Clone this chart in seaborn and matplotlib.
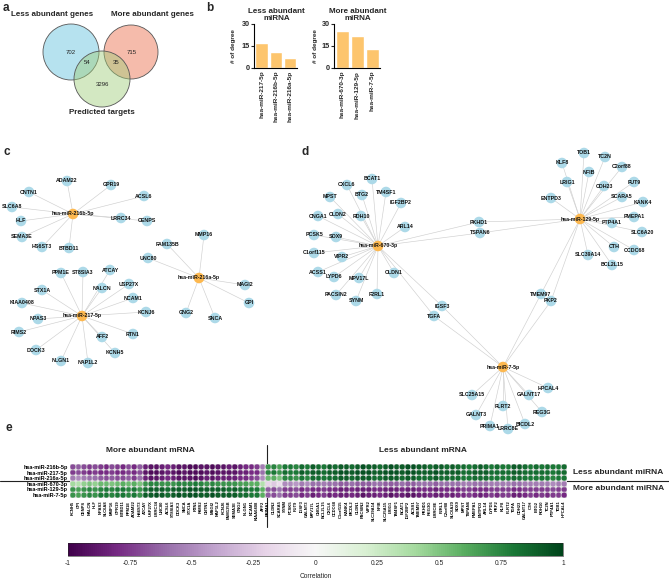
import numpy as np
import pandas as pd
import matplotlib
matplotlib.use("Agg")
import matplotlib.pyplot as plt
import matplotlib.patches as mpatches
import seaborn as sns

sns.set_theme(style="white")
plt.rcParams['font.family'] = ['Liberation Sans', 'DejaVu Sans']

W, H = 669, 584

# ---------------- data ----------------
venn_titles = ["Less abundant genes", "More abundant genes", "Predicted targets"]
venn_counts = [702, 715, 54, 35, 3296]   # less only, more only, less&pred, more&pred, pred only

less_mirna = ["hsa-miR-217-5p", "hsa-miR-216b-5p", "hsa-miR-216a-5p"]
less_degree = [17, 11, 7]
more_mirna = ["hsa-miR-670-3p", "hsa-miR-129-5p", "hsa-miR-7-5p"]
more_degree = [25, 22, 13]

targets_216b = ["ADAM22", "GPR19", "ACSL6", "CNTN1", "SLC6A8", "HLF", "LRRC34", "CENPS",
                "SEMA3E", "HS6ST3", "BTBD11"]
targets_216a = ["MMP16", "FAM135B", "UNC80", "MAGI2", "GPI", "GNG2", "SNCA"]
targets_217 = ["PPM1E", "ST8SIA3", "ATCAY", "NALCN", "USP27X", "STX1A", "NCAM1", "KIAA0408",
               "KCNJ6", "NPAS3", "RIMS2", "RTN1", "AFF2", "DOCK3", "KCNH5", "NLGN1", "NAP1L2"]
targets_670 = ["BCAT1", "CXCL6", "TM4SF1", "MPST", "BTG2", "IGF2BP2", "CNGA1", "CLDN2", "RDH10",
               "ARL14", "PCSK5", "SOX9", "C1orf115", "VIPR2", "PKHD1", "TSPAN6", "ACSS1", "LYPD6",
               "MPV17L", "CLDN1", "PACSIN2", "SYNM", "F2RL1", "IGSF3", "TGFA"]
targets_129 = ["TOB1", "TC2N", "KLF8", "C2orf88", "NFIB", "LRIG1", "FUT9", "CDH23", "ENTPD3",
               "SCARA5", "KANK4", "PMEPA1", "PTP4A1", "SLC6A20", "CTH", "CCDC68", "SLC39A14",
               "BCL2L15", "TMEM97", "PKP2", "PKHD1", "TSPAN6"]
targets_7 = ["HPCAL4", "SLC25A15", "GALNT17", "FLRT2", "REG3G", "GALNT3", "PRIMA1", "LRRC8E",
             "BICDL2", "IGSF3", "TGFA", "TMEM97", "PKP2"]

heat_rows = ["hsa-miR-216b-5p", "hsa-miR-217-5p", "hsa-miR-216a-5p",
             "hsa-miR-670-3p", "hsa-miR-129-5p", "hsa-miR-7-5p"]
more_mrna = ["KCNH5", "GPI", "CENPS", "NALCN", "HLF", "NPAS3", "SLC6A8", "MMP16", "GPR19",
             "BTBD11", "PPM1E", "ADAM22", "HS6ST3", "ATCAY", "USP27X", "LRRC34", "UNC80",
             "ACSL6", "ST8SIA3", "DOCK3", "SNCA", "STX1A", "RTN1", "RIMS2", "CNTN1", "MAGI2",
             "NAP1L2", "KCNJ6", "FAM135B", "SEMA3E", "GNG2", "NLGN1", "NCAM1", "KIAA0408", "AFF2"]
less_mrna = ["PRIMA1", "CLDN2", "SCARA5", "SYNM", "PCSK5", "FUT9", "IGSF3", "GALNT3", "MPV17L",
             "CNGA1", "BCL2L15", "CXCL6", "CCDC68", "C1orf115", "KANK4", "BICDL2", "CLDN1",
             "PACSIN2", "VIPR2", "SLC39A14", "NFIB", "SLC25A15", "LRIG1", "TM4SF1", "BCAT1",
             "IGF2BP2", "ACSS1", "TMEM97", "PKHD1", "REG3G", "LRRC8E", "F2RL1", "C2orf88",
             "SLC6A20", "SOX9", "MPST", "TSPAN6", "PMEPA1", "ENTPD3", "ARL14", "LYPD6", "PKP2",
             "KLF8", "FLRT2", "TGFA", "CDH23", "GALNT17", "CTH", "BTG2", "RDH10", "TC2N",
             "PTP4A1", "TOB1", "HPCAL4"]

# correlations, one list per miRNA row: 35 "more abundant mRNA" then 54 "less abundant mRNA"
corr_216b = [-0.7, -0.65, -0.7, -0.75, -0.7, -0.75, -0.8, -0.7, -0.75, -0.8, -0.7, -0.8, -0.65,
             -0.85, -0.9, -0.9, -0.85, -0.8, -0.85, -0.9, -0.9, -0.95, -0.95, -0.9, -0.9, -0.95,
             -0.9, -0.9, -0.85, -0.9, -0.85, -0.8, -0.8, -0.75, -0.55,
             0.7, 0.75, 0.65, 0.8, 0.8, 0.75, 0.85, 0.8, 0.9, 0.85, 0.8, 0.9, 0.85, 0.9, 0.9, 0.85,
             0.9, 0.95, 0.9, 0.9, 0.85, 0.9, 0.95, 0.9, 0.9, 0.95, 0.95, 0.9, 0.9, 0.85, 0.9, 0.9,
             0.85, 0.9, 0.85, 0.85, 0.8, 0.85, 0.9, 0.85, 0.8, 0.85, 0.8, 0.8, 0.9, 0.9, 0.85,
             0.8, 0.85, 0.8, 0.85, 0.8, 0.8, 0.85]
corr_217 = [-0.75, -0.7, -0.75, -0.8, -0.75, -0.8, -0.8, -0.75, -0.8, -0.8, -0.75, -0.8, -0.7,
            -0.9, -0.95, -0.95, -0.9, -0.85, -0.9, -0.95, -0.9, -0.95, -0.95, -0.95, -0.9, -0.95,
            -0.9, -0.9, -0.9, -0.9, -0.85, -0.85, -0.8, -0.8, -0.6,
            0.75, 0.8, 0.7, 0.85, 0.8, 0.8, 0.9, 0.85, 0.9, 0.9, 0.85, 0.9, 0.9, 0.95, 0.95, 0.9,
            0.95, 0.95, 0.95, 0.9, 0.9, 0.95, 0.95, 0.95, 0.9, 0.95, 0.95, 0.9, 0.9, 0.9, 0.95,
            0.9, 0.9, 0.9, 0.9, 0.85, 0.85, 0.9, 0.9, 0.9, 0.85, 0.85, 0.85, 0.85, 0.9, 0.9,
            0.85, 0.85, 0.85, 0.85, 0.85, 0.8, 0.85, 0.85]
corr_216a = [-0.55, -0.5, -0.55, -0.6, -0.6, -0.65, -0.7, -0.65, -0.7, -0.7, -0.65, -0.75,
             -0.6, -0.85, -0.9, -0.9, -0.85, -0.8, -0.85, -0.9, -0.9, -0.9, -0.95, -0.9, -0.85,
             -0.9, -0.85, -0.85, -0.85, -0.85, -0.8, -0.8, -0.75, -0.7, -0.5,
             0.55, 0.6, 0.5, 0.75, 0.75, 0.7, 0.8, 0.75, 0.85, 0.85, 0.8, 0.85, 0.85, 0.9, 0.9,
             0.85, 0.9, 0.9, 0.9, 0.85, 0.85, 0.9, 0.9, 0.9, 0.85, 0.9, 0.9, 0.85, 0.85, 0.85,
             0.9, 0.85, 0.85, 0.85, 0.85, 0.8, 0.8, 0.85, 0.85, 0.85, 0.8, 0.8, 0.8, 0.8, 0.85,
             0.85, 0.8, 0.8, 0.8, 0.8, 0.8, 0.75, 0.8, 0.8]
corr_670 = [0.4, 0.35, 0.45, 0.5, 0.45, 0.55, 0.55, 0.5, 0.55, 0.6, 0.55, 0.6, 0.5, 0.7, 0.75,
            0.75, 0.7, 0.7, 0.7, 0.75, 0.75, 0.75, 0.8, 0.75, 0.7, 0.75, 0.7, 0.7, 0.7, 0.7,
            0.65, 0.65, 0.6, 0.6, 0.35,
            -0.2, -0.25, -0.15, -0.5, -0.5, -0.45, -0.55, -0.5, -0.6, -0.6, -0.55, -0.6, -0.6,
            -0.65, -0.65, -0.6, -0.65, -0.65, -0.65, -0.6, -0.6, -0.65, -0.65, -0.65, -0.6, -0.65,
            -0.65, -0.6, -0.6, -0.6, -0.65, -0.6, -0.6, -0.6, -0.6, -0.55, -0.55, -0.6,
            -0.6, -0.6, -0.55, -0.55, -0.55, -0.55, -0.6, -0.6, -0.55, -0.55, -0.55, -0.55, -0.55,
            -0.5, -0.55, -0.55]
corr_129 = [0.7, 0.65, 0.7, 0.75, 0.7, 0.75, 0.8, 0.75, 0.8, 0.8, 0.75, 0.8, 0.7, 0.85, 0.9,
            0.9, 0.9, 0.85, 0.9, 0.9, 0.9, 0.95, 0.95, 0.9, 0.9, 0.9, 0.9, 0.9, 0.85, 0.9, 0.85,
            0.85, 0.8, 0.8, 0.6,
            -0.65, -0.7, -0.6, -0.75, -0.75, -0.7, -0.8, -0.75, -0.8, -0.8, -0.75, -0.8, -0.8,
            -0.85, -0.85, -0.8, -0.85, -0.85, -0.85, -0.8, -0.8, -0.85, -0.85, -0.85, -0.8,
            -0.85, -0.85, -0.8, -0.8, -0.8, -0.85, -0.8, -0.8, -0.8, -0.8, -0.75, -0.75, -0.8,
            -0.8, -0.8, -0.75, -0.75, -0.75, -0.75, -0.8, -0.8, -0.75, -0.75, -0.75, -0.75,
            -0.75, -0.7, -0.75, -0.75]
corr_7 = [0.7, 0.65, 0.7, 0.75, 0.7, 0.8, 0.8, 0.75, 0.8, 0.8, 0.75, 0.8, 0.7, 0.9, 0.9, 0.95,
          0.9, 0.85, 0.9, 0.95, 0.9, 0.95, 0.95, 0.9, 0.9, 0.95, 0.9, 0.9, 0.9, 0.9, 0.85, 0.85,
          0.8, 0.8, 0.6,
          -0.65, -0.7, -0.6, -0.75, -0.75, -0.7, -0.8, -0.75, -0.85, -0.8, -0.75, -0.85, -0.8,
          -0.85, -0.85, -0.8, -0.85, -0.9, -0.85, -0.85, -0.8, -0.85, -0.9, -0.85, -0.85, -0.9,
          -0.9, -0.85, -0.85, -0.8, -0.85, -0.85, -0.8, -0.85, -0.8, -0.8, -0.75, -0.8, -0.85,
          -0.8, -0.75, -0.8, -0.75, -0.75, -0.85, -0.85, -0.8, -0.75, -0.8, -0.75, -0.8, -0.75,
          -0.75, -0.8]
corr_rows = [corr_216b, corr_217, corr_216a, corr_670, corr_129, corr_7]
cbar_ticks = [-1, -0.75, -0.5, -0.25, 0, 0.25, 0.5, 0.75, 1]
cbar_ticklabels = ["-1", "-0.75", "-0.5", "-0.25", "0", "0.25", "0.5", "0.75", "1"]

# ---------------- layout (pixel positions of network nodes) ----------------
layout = {
    "hsa-miR-216b-5p": (73, 214), "ADAM22": (67, 181), "GPR19": (111, 185), "ACSL6": (144, 196),
    "CNTN1": (29, 192), "SLC6A8": (12, 207), "HLF": (21, 221), "LRRC34": (121, 218),
    "CENPS": (147, 221), "SEMA3E": (22, 237), "HS6ST3": (42, 247), "BTBD11": (69, 248),
    "hsa-miR-216a-5p": (199, 278), "MMP16": (204, 235), "FAM135B": (167, 244), "UNC80": (148, 258),
    "MAGI2": (245, 285), "GPI": (249, 303), "GNG2": (186, 313), "SNCA": (215, 318),
    "hsa-miR-217-5p": (82, 316), "PPM1E": (61, 273), "ST8SIA3": (83, 272), "ATCAY": (110, 270),
    "NALCN": (102, 288), "USP27X": (129, 284), "STX1A": (42, 290), "NCAM1": (133, 298),
    "KIAA0408": (22, 303), "KCNJ6": (146, 312), "NPAS3": (38, 319), "RIMS2": (19, 332),
    "RTN1": (133, 334), "AFF2": (102, 337), "DOCK3": (36, 350), "KCNH5": (115, 353),
    "NLGN1": (61, 361), "NAP1L2": (88, 363),
    "hsa-miR-670-3p": (378, 246), "BCAT1": (372, 179), "CXCL6": (347, 185), "TM4SF1": (386, 192),
    "MPST": (330, 197), "BTG2": (362, 195), "IGF2BP2": (401, 203), "CNGA1": (318, 216),
    "CLDN2": (338, 214), "RDH10": (361, 216), "ARL14": (405, 227), "PCSK5": (314, 235),
    "SOX9": (336, 237), "C1orf115": (314, 253), "VIPR2": (342, 257), "PKHD1": (479, 222),
    "TSPAN6": (480, 233), "ACSS1": (318, 272), "LYPD6": (334, 277), "MPV17L": (359, 278),
    "CLDN1": (394, 273), "PACSIN2": (336, 295), "SYNM": (356, 301), "F2RL1": (377, 294),
    "IGSF3": (442, 306), "TGFA": (434, 316),
    "hsa-miR-129-5p": (580, 219), "TOB1": (584, 153), "TC2N": (605, 157), "KLF8": (562, 163),
    "C2orf88": (622, 167), "NFIB": (589, 172), "LRIG1": (567, 182), "FUT9": (634, 182),
    "CDH23": (604, 186), "ENTPD3": (551, 198), "SCARA5": (622, 197), "KANK4": (643, 202),
    "PMEPA1": (634, 217), "PTP4A1": (612, 223), "SLC6A20": (642, 232), "CTH": (614, 247),
    "CCDC68": (634, 250), "SLC39A14": (588, 255), "BCL2L15": (612, 265), "TMEM97": (541, 294),
    "PKP2": (551, 301),
    "hsa-miR-7-5p": (503, 367), "HPCAL4": (548, 388), "SLC25A15": (472, 395),
    "GALNT17": (529, 395), "FLRT2": (503, 406), "REG3G": (542, 412), "GALNT3": (476, 415),
    "PRIMA1": (490, 426), "LRRC8E": (508, 429), "BICDL2": (525, 424),
}

HUB_C = "#fdb84f"
GENE_C = "#acd9e8"
BAR_C = "#fdc56d"

fig = plt.figure(figsize=(W / 100, H / 100), dpi=100)


def ax_px(x0, y0, x1, y1, **kw):
    return fig.add_axes([x0 / W, 1 - y1 / H, (x1 - x0) / W, (y1 - y0) / H], **kw)


# overlay axes in pixel coordinates
ov = ax_px(0, 0, W, H)
ov.set_xlim(0, W)
ov.set_ylim(H, 0)
ov.axis("off")

# panel letters
for lab, (x, y) in {"a": (3, 8), "b": (206, 8), "c": (4, 152), "d": (302, 152), "e": (5, 428)}.items():
    ov.text(x, y, lab, fontsize=8.5, fontweight="bold", va="center", ha="left")

# ---------------- panel a: Venn ----------------
circles = [((71, 52), 28, "#5fbfdc"), ((131, 52), 27, "#ea6a45"), ((102, 79), 28, "#9fce78")]
for (c, r, col) in circles:
    ov.add_patch(mpatches.Circle(c, r, facecolor=col, alpha=0.45, edgecolor="none"))
    ov.add_patch(mpatches.Circle(c, r, facecolor="none", edgecolor="#555555", lw=0.6))
for t, (x, y) in zip(venn_titles, [(52, 15), (152, 15), (102, 113)]):
    ov.text(x, y, t, fontsize=5.8, fontweight="bold", ha="center", va="center")
for n, (x, y) in zip(venn_counts, [(71, 52), (132, 52), (87, 63), (116, 63), (102, 85)]):
    ov.text(x, y, str(n), fontsize=4.3, ha="center", va="center", color="#222222")

# ---------------- panel b: bars ----------------
for names, vals, (x0, x1), title, ylx in [
        (less_mirna, less_degree, (254, 297), "Less abundant\nmiRNA", 233),
        (more_mirna, more_degree, (334, 380), "More abundant\nmiRNA", 316)]:
    ab = ax_px(x0, 24, x1, 68)
    sns.barplot(x=names, y=vals, color=BAR_C, width=0.9, saturation=1, ax=ab)
    ab.set_ylim(0, 30)
    ab.set_xlim(-0.55, 2.5)
    ab.set_yticks([0, 15, 30])
    ab.set_yticklabels(["0", "15", "30"], fontsize=5.2, fontweight="bold")
    ab.tick_params(axis="y", length=2.2, width=0.8, pad=1, left=True)
    ab.tick_params(axis="x", length=0, pad=2)
    ab.set_xticks(range(3))
    ab.set_xticklabels(names, rotation=90, fontsize=4.6, fontweight="bold")
    for s in ["top", "right"]:
        ab.spines[s].set_visible(False)
    for s in ["left", "bottom"]:
        ab.spines[s].set_linewidth(0.8)
        ab.spines[s].set_color("black")
    ab.set_xlabel("")
    ab.set_ylabel("")
    ab.set_facecolor("none")
    ov.text((x0 + x1) / 2 + 1, 15, title, fontsize=5.8, fontweight="bold", ha="center", va="center",
            linespacing=1.1)
    ov.text(ylx, 46, "# of degree", fontsize=4.6, fontweight="bold", rotation=90, ha="center",
            va="center")

# ---------------- panels c & d: networks ----------------
hubs = {"hsa-miR-216b-5p": targets_216b, "hsa-miR-216a-5p": targets_216a,
        "hsa-miR-217-5p": targets_217, "hsa-miR-670-3p": targets_670,
        "hsa-miR-129-5p": targets_129, "hsa-miR-7-5p": targets_7}
for hub, tg in hubs.items():
    hx, hy = layout[hub]
    for g in tg:
        gx, gy = layout[g]
        ov.plot([hx, gx], [hy, gy], color="#cfcfcf", lw=0.45, zorder=1)

genes_all = []
for tg in hubs.values():
    for g in tg:
        if g not in genes_all:
            genes_all.append(g)
nodes = pd.DataFrame({"name": list(hubs) + genes_all,
                      "kind": ["hub"] * len(hubs) + ["gene"] * len(genes_all)})
nodes["x"] = [layout[n][0] for n in nodes["name"]]
nodes["y"] = [layout[n][1] for n in nodes["name"]]
sns.scatterplot(data=nodes, x="x", y="y", hue="kind", palette={"hub": HUB_C, "gene": GENE_C},
                s=58, linewidth=0, legend=False, ax=ov, zorder=2)
for _, r in nodes.iterrows():
    ov.text(r["x"], r["y"], r["name"], fontsize=3.8, fontweight="bold", ha="center", va="center",
            zorder=3, color="#111111")
ov.set_xlim(0, W)
ov.set_ylim(H, 0)
ov.set_xlabel("")
ov.set_ylabel("")

# ---------------- panel e: correlation dot heatmap ----------------
cols = more_mrna + less_mrna
nC, nR = len(cols), len(heat_rows)
hx0, hx1, hy0, hy1 = 70, 567, 464, 498
ah = ax_px(hx0, hy0, hx1, hy1)
ah.set_facecolor("#d4d4d4")
rows_df = []
for i, rname in enumerate(heat_rows):
    for j, cname in enumerate(cols):
        rows_df.append((j, i, corr_rows[i][j]))
hdf = pd.DataFrame(rows_df, columns=["col", "row", "corr"])
sns.scatterplot(data=hdf, x="col", y="row", hue="corr", palette="PRGn", hue_norm=(-1, 1),
                s=16, linewidth=0, legend=False, ax=ah)
for k in range(nC + 1):
    ah.axvline(k - 0.5, color="white", lw=0.3)
for k in range(nR + 1):
    ah.axhline(k - 0.5, color="white", lw=0.3)
ah.set_xlim(-0.5, nC - 0.5)
ah.set_ylim(nR - 0.5, -0.5)
ah.set_xticks(range(nC))
ah.set_xticklabels(cols, rotation=90, fontsize=3.0, fontweight="bold")
ah.set_yticks(range(nR))
ah.set_yticklabels(heat_rows, fontsize=4.0, fontweight="bold")
ah.tick_params(length=1, width=0.3, pad=0.8, colors="#333333", labelcolor="black")
for s in ah.spines.values():
    s.set_visible(False)
ah.set_xlabel("")
ah.set_ylabel("")

# separators and section labels
ov.plot([267, 267], [445, 527], color="#222222", lw=0.8)
ov.plot([0, 669], [480.5, 480.5], color="#222222", lw=0.8)
ov.text(150, 451, "More abundant mRNA", fontsize=6, fontweight="bold", ha="center", va="center")
ov.text(423, 451, "Less abundant mRNA", fontsize=6, fontweight="bold", ha="center", va="center")
ov.text(573, 472, "Less abundant miRNA", fontsize=6, fontweight="bold", ha="left", va="center")
ov.text(573, 489, "More abundant miRNA", fontsize=6, fontweight="bold", ha="left", va="center")

# colorbar
cax = ax_px(68, 543, 563, 556)
sm = plt.cm.ScalarMappable(cmap="PRGn", norm=plt.Normalize(-1, 1))
cb = fig.colorbar(sm, cax=cax, orientation="horizontal")
cb.set_ticks(cbar_ticks)
cb.set_ticklabels(cbar_ticklabels)
cb.ax.tick_params(labelsize=4.8, length=0, pad=3)
cb.outline.set_linewidth(0.4)
cb.set_label("Correlation", fontsize=4.8, labelpad=4)

fig.savefig("out.png", dpi=100)
